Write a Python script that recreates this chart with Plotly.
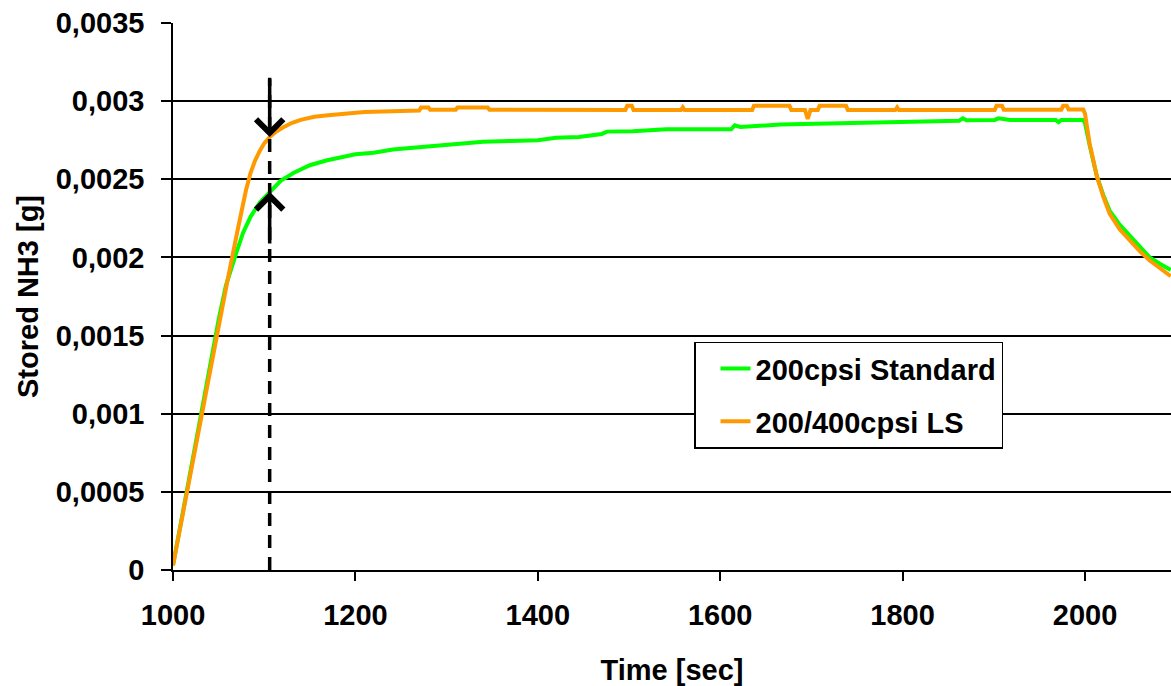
import plotly.graph_objects as go

# ---------------- data ----------------
time_std = [1000, 1010, 1020, 1030, 1040, 1050, 1058, 1064, 1070, 1077, 1085, 1095, 1106,
            1118, 1132, 1150, 1168, 1185, 1200, 1220, 1241, 1260, 1280, 1300, 1315, 1340,
            1370, 1400, 1420, 1445, 1470, 1476, 1504, 1541, 1589, 1612, 1616, 1622, 1666,
            1706, 1760, 1794, 1862, 1866, 1870, 1901, 1905, 1918, 1968, 1971, 1974, 1998,
            2000, 2005, 2013, 2020, 2027, 2038, 2049, 2060, 2071, 2082, 2094]
stored_std = [0.00003, 0.00035, 0.00066, 0.00097, 0.00129, 0.00160, 0.00182, 0.00194, 0.00204,
              0.00216, 0.00226, 0.00235, 0.00242, 0.00249, 0.00254, 0.00259, 0.00262, 0.00264,
              0.00266, 0.00267, 0.00269, 0.00270, 0.00271, 0.00272, 0.00273, 0.00274, 0.002745,
              0.00275, 0.002765, 0.00277, 0.00279, 0.002805, 0.002808, 0.00282, 0.00282, 0.00282,
              0.002845, 0.002835, 0.00285, 0.002856, 0.002858, 0.002864, 0.002875, 0.00289,
              0.002878, 0.00288, 0.00289, 0.00288, 0.00288, 0.002865, 0.00288, 0.00288,
              0.00286, 0.00272, 0.00252, 0.00240, 0.00230, 0.00221, 0.00214, 0.00207, 0.00200,
              0.00196, 0.00192]

time_ls = [1000, 1010, 1020, 1030, 1040, 1050, 1060, 1070, 1075, 1080, 1085, 1090, 1095, 1100,
           1106, 1112, 1120, 1130, 1140, 1155, 1170, 1190, 1210, 1240, 1270, 1272, 1280, 1282,
           1310, 1312, 1345, 1347, 1400, 1440, 1470, 1496, 1498, 1503, 1505, 1557, 1559, 1561,
           1635, 1637, 1676, 1678, 1693, 1696, 1699, 1707, 1709, 1738, 1740, 1792, 1794, 1796,
           1901, 1903, 1909, 1911, 1974, 1976, 1980, 1982, 1998, 2000, 2005, 2013, 2020, 2027,
           2038, 2049, 2060, 2071, 2082, 2094]
stored_ls = [0.00003, 0.00034, 0.00064, 0.00095, 0.00125, 0.00155, 0.00186, 0.00215, 0.00230,
             0.00243, 0.00254, 0.00262, 0.00268, 0.00273, 0.00277, 0.00280, 0.00283, 0.00286,
             0.00288, 0.00290, 0.00291, 0.00292, 0.00293, 0.002935, 0.00294, 0.00296, 0.00296,
             0.002945, 0.002945, 0.00296, 0.00296, 0.002945, 0.002945, 0.00294, 0.002943,
             0.002943, 0.00297, 0.00297, 0.002943, 0.002943, 0.00296, 0.002943, 0.002943,
             0.00297, 0.00297, 0.002943, 0.002943, 0.002886, 0.002943, 0.002943, 0.00297,
             0.00297, 0.002943, 0.002943, 0.00296, 0.002943, 0.002943, 0.00297, 0.00297,
             0.002945, 0.002945, 0.00297, 0.00297, 0.002947, 0.002947, 0.00292, 0.00273,
             0.00252, 0.00239, 0.00228, 0.00218, 0.00211, 0.00204, 0.00198, 0.00193, 0.00188]

series_names = ["200cpsi Standard", "200/400cpsi LS"]

y_tick_vals = [0, 0.0005, 0.001, 0.0015, 0.002, 0.0025, 0.003, 0.0035]
y_tick_text = ["0", "0,0005", "0,001", "0,0015", "0,002", "0,0025", "0,003", "0,0035"]
x_tick_vals = [1000, 1200, 1400, 1600, 1800, 2000]

marker_time = 1106
marker_top = 0.00315
arrow_ls_tip = 0.00277
arrow_std_tip = 0.00242
arrow_std_tail = 0.00208

# ---------------- figure ----------------
FONT = "Liberation Sans, Arial, sans-serif"
FS = 29

fig = go.Figure()
fig.add_trace(go.Scatter(x=time_std, y=stored_std, mode="lines", name=series_names[0],
                         legendgroup="a",
                         line=dict(color="#00ff00", width=4)))
fig.add_trace(go.Scatter(x=time_ls, y=stored_ls, mode="lines", name=series_names[1],
                         legendgroup="b",
                         line=dict(color="#ff9900", width=4)))

fig.add_shape(type="line", xref="x", yref="y", x0=marker_time, x1=marker_time,
              y0=0, y1=marker_top, line=dict(color="black", width=3.5, dash="13px,9px"))

fig.add_annotation(x=marker_time, y=arrow_ls_tip, ax=marker_time, ay=marker_top,
                   xref="x", yref="y", axref="x", ayref="y", text="", showarrow=True,
                   arrowhead=4, arrowsize=1.5, arrowwidth=3.5, arrowcolor="black", standoff=0)
fig.add_annotation(x=marker_time, y=arrow_std_tip, ax=marker_time, ay=arrow_std_tail,
                   xref="x", yref="y", axref="x", ayref="y", text="", showarrow=True,
                   arrowhead=4, arrowsize=1.5, arrowwidth=3.5, arrowcolor="black", standoff=0)

fig.update_layout(
    width=1171, height=686,
    margin=dict(l=173, r=0, t=23, b=116, autoexpand=False),
    paper_bgcolor="white", plot_bgcolor="white",
    font=dict(family=FONT, size=FS, color="black", weight="bold"),
    showlegend=True,
    legend=dict(x=(694 - 173) / 998, y=(570 - 341.7) / 547, xanchor="left", yanchor="top",
                bgcolor="white", bordercolor="black", borderwidth=1.5,
                font=dict(family=FONT, size=FS, color="black", weight="bold"),
                tracegroupgap=12, indentation=20, traceorder="grouped",
                entrywidth=290, entrywidthmode="pixels"),
    xaxis=dict(range=[1000, 2094.3], tickvals=x_tick_vals, showgrid=False, zeroline=False,
               showline=True, linecolor="black", linewidth=1.5,
               ticks="outside", ticklen=9, tickwidth=1.5, tickcolor="black",
               ticklabelstandoff=9,
               tickfont=dict(family=FONT, size=FS, color="black", weight="bold"),
               title=dict(text="Time [sec]", standoff=30,
                          font=dict(family=FONT, size=FS, color="black", weight="bold"))),
    yaxis=dict(range=[0, 0.0035], tickvals=y_tick_vals, ticktext=y_tick_text,
               showgrid=True, gridcolor="black", gridwidth=1.5, zeroline=False,
               showline=True, linecolor="black", linewidth=1.5,
               ticks="outside", ticklen=10, tickwidth=1.5, tickcolor="black",
               ticklabelstandoff=11,
               tickfont=dict(family=FONT, size=FS, color="black", weight="bold"),
               title=dict(text="Stored NH3 [g]", standoff=9,
                          font=dict(family=FONT, size=FS, color="black", weight="bold"))),
)

fig.write_html("out.html")
